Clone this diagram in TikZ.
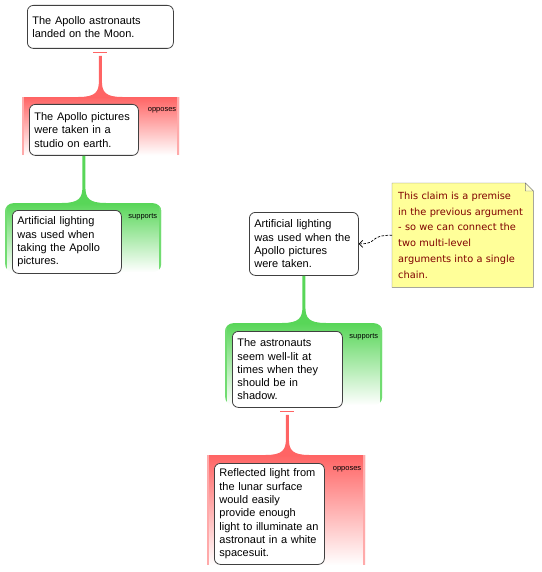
\documentclass[tikz,border=0pt]{standalone}
\usepackage{fontspec}
\setmainfont{Liberation Sans}
\newfontfamily\notefont{DejaVu Sans}
\usetikzlibrary{positioning,arrows.meta,calc,backgrounds}
\definecolor{oppred}{RGB}{255,100,100}
\definecolor{supgreen}{RGB}{88,214,88}
\definecolor{boxgray}{RGB}{64,64,64}
\definecolor{notegray}{RGB}{120,120,120}
\definecolor{noteyellow}{RGB}{255,255,153}
\definecolor{notetext}{RGB}{128,0,0}
\tikzset{
  claimbox/.style={draw=boxgray, fill=white, rounded corners=6pt, line width=0.8pt, anchor=north west, align=left, inner xsep=5pt, inner ysep=3pt, font=\fontsize{11}{13.3}\selectfont},
  oppzone/.style={anchor=north west, inner sep=0pt, top color=oppred, bottom color=white,
    path picture={\draw[oppred!55, line width=3.5pt] (path picture bounding box.north west) -- (path picture bounding box.south west) (path picture bounding box.north east) -- (path picture bounding box.south east);}},
  supzone/.style={anchor=north west, inner sep=0pt, rounded corners=8pt, top color=supgreen, bottom color=white,
    path picture={\draw[supgreen!85, line width=4pt] (path picture bounding box.north west) -- (path picture bounding box.south west) (path picture bounding box.north east) -- (path picture bounding box.south east);}},
  zonelabel/.style={anchor=east, inner sep=0pt, font=\fontsize{7.5}{9}\selectfont},
  notebox/.style={anchor=north west, align=left, inner xsep=6pt, text=notetext, font=\notefont\fontsize{9.8}{15.8}\selectfont},
  notelink/.style={dash pattern=on 2.5pt off 1.5pt, line width=0.7pt, -{Straight Barb[length=3.5pt, width=7pt]}}
}
\begin{document}
\begin{tikzpicture}[x=1pt, y=-1pt]
  \useasboundingbox (0,0) rectangle (541,572);
  % opposes / supports zones
  \node[oppzone, minimum width=157pt, minimum height=58pt] (opp1) at (22,97) {};
  \node[supzone, minimum width=156pt, minimum height=69pt] (sup1) at (5,203) {};
  \node[supzone, minimum width=157pt, minimum height=82pt] (sup2) at (225,323) {};
  \node[oppzone, minimum width=158pt, minimum height=110pt] (opp2) at (207,455) {};
  \node[zonelabel] (lab1) at ($(opp1.north east)+(-3,13)$) {opposes};
  \node[zonelabel] (lab2) at ($(sup1.north east)+(-4,14)$) {supports};
  \node[zonelabel] (lab3) at ($(sup2.north east)+(-4,14)$) {supports};
  \node[zonelabel] (lab4) at ($(opp2.north east)+(-4,14)$) {opposes};

  % claims
  \node[claimbox, text width=136pt, minimum height=43pt] (c1) at (27,5) {The Apollo astronauts\\landed on the Moon.};
  \node[claimbox, text width=99pt, minimum height=51pt] (c2) at (29,104) {The Apollo pictures\\were taken in a\\studio on earth.};
  \node[claimbox, text width=99pt, minimum height=63pt] (c3) at (12,210) {Artificial lighting\\was used when\\taking the Apollo\\pictures.};
  \node[claimbox, text width=99pt, minimum height=63pt] (c4) at (249,212) {Artificial lighting\\was used when the\\Apollo pictures\\were taken.};
  \node[claimbox, text width=100pt, minimum height=76pt] (c5) at (232,331) {The astronauts\\seem well-lit at\\times when they\\should be in\\shadow.};
  \node[claimbox, text width=100pt, minimum height=101pt] (c6) at (214,463) {Reflected light from\\the lunar surface\\would easily\\provide enough\\light to illuminate an\\astronaut in a white\\spacesuit.};

  % stems
  \foreach \from/\to/\col/\gap in {c1/opp1/oppred/7, c2/sup1/supgreen/0, c4/sup2/supgreen/0, c5/opp2/oppred/7}
    \fill[\col] let \p1=(\from.south), \p2=(\to.north) in
      (\x1-1.5pt,\y1-\gap pt) -- (\x1-1.5pt,\y2+16pt)
      .. controls (\x1-1.5pt,\y2+5pt) and (\x1-5pt,\y2) .. (\x1-22pt,\y2)
      -- (\x1+22pt,\y2)
      .. controls (\x1+5pt,\y2) and (\x1+1.5pt,\y2+5pt) .. (\x1+1.5pt,\y2+16pt)
      -- (\x1+1.5pt,\y1-\gap pt) -- cycle;
  \foreach \from in {c1,c5}
    \draw[oppred, line width=1.2pt] ($(\from.south)+(-7,4)$) -- ($(\from.south)+(7,4)$);

  % note
  \node[notebox, text width=129pt, minimum height=104pt] (note) at (392,183) {This claim is a premise\\in the previous argument\\- so we can connect the\\two multi-level\\arguments into a single\\chain.};
  \begin{scope}[on background layer]
    \draw[notegray, fill=noteyellow] (note.north west) -- ($(note.north east)+(-8,0)$) -- ($(note.north east)+(0,8)$) -- (note.south east) -- (note.south west) -- cycle;
    \draw[notegray, fill=noteyellow!50] ($(note.north east)+(-8,0)$) -- ($(note.north east)+(-8,8)$) -- ($(note.north east)+(0,8)$) -- cycle;
  \end{scope}
  \draw[notelink] (note.west) .. controls +(-24,0) and +(20,0) .. (c4.east);
\end{tikzpicture}
\end{document}
